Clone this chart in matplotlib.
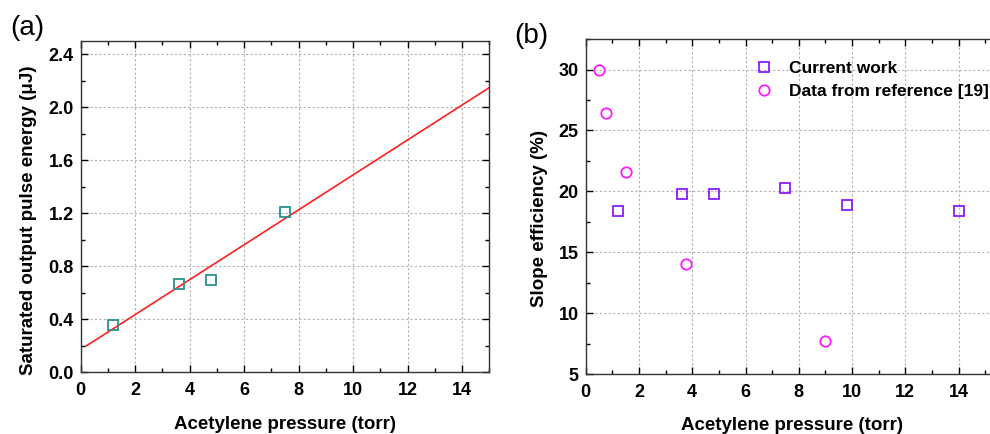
import numpy as np
import matplotlib
matplotlib.use('Agg')
import matplotlib.pyplot as plt
from matplotlib.ticker import MultipleLocator, FormatStrFormatter

plt.rcParams['font.family'] = ['Liberation Sans', 'DejaVu Sans']
plt.rcParams['font.weight'] = 'bold'

# (a) saturated output pulse energy vs pressure
pressure_a = [1.2, 3.6, 4.8, 7.5]
energy_uj = [0.36, 0.67, 0.70, 1.21]
fit_range = [0.2, 15.0]

# (b) slope efficiency, this work and ref [19]
pressure_cur = [1.2, 3.6, 4.8, 7.5, 9.8, 14.0]
slope_cur = [18.4, 19.8, 19.8, 20.3, 18.9, 18.4]
pressure_ref = [0.5, 0.75, 1.5, 3.75, 9.0]
slope_ref = [30.0, 26.4, 21.6, 14.0, 7.7]

TEAL = '#2a8f8f'
PURPLE = '#8a1cff'
MAGENTA = '#ff1aff'
LABEL_SIZE = 13.5


def style_axes(ax):
    ax.tick_params(which='both', direction='in', top=True, right=True,
                   labelsize=13, width=1.0)
    ax.tick_params(which='major', length=5)
    ax.tick_params(which='minor', length=3)
    ax.tick_params(axis='x', which='major', pad=7)
    ax.tick_params(axis='y', which='major', pad=5)
    ax.grid(True, which='major', linestyle=(0, (2, 2)), color='#b0b0b0', linewidth=0.8)
    ax.set_axisbelow(True)
    for s in ax.spines.values():
        s.set_linewidth(1.0)
        s.set_color('#333333')


fig = plt.figure(figsize=(9.9, 4.34), dpi=100)

ax1 = fig.add_axes([0.0815, 0.142, 0.4127, 0.764])
coef = np.polyfit(pressure_a, energy_uj, 1)
xf = np.array(fit_range)
ax1.plot(xf, np.polyval(coef, xf), color='#ff2020', linewidth=1.2, zorder=2)
ax1.plot(pressure_a, energy_uj, 's', markersize=6.5, markerfacecolor='none',
         markeredgecolor=TEAL, markeredgewidth=1.3, zorder=3)
ax1.set_xlim(0, 15)
ax1.set_ylim(0, 2.5)
ax1.xaxis.set_major_locator(MultipleLocator(2))
ax1.xaxis.set_minor_locator(MultipleLocator(1))
ax1.yaxis.set_major_locator(MultipleLocator(0.4))
ax1.yaxis.set_minor_locator(MultipleLocator(0.2))
ax1.yaxis.set_major_formatter(FormatStrFormatter('%.1f'))
ax1.set_xlabel('Acetylene pressure (torr)', fontsize=LABEL_SIZE, fontweight='bold', labelpad=12)
ax1.set_ylabel('Saturated output pulse energy (\u03bcJ)', fontsize=LABEL_SIZE, fontweight='bold', labelpad=8)
ax1.yaxis.label.set_y(0.459)
style_axes(ax1)

# right panel runs past the figure edge, so only label ticks up to 14
ax2 = fig.add_axes([0.5916, 0.138, 0.4305, 0.772])
ax2.plot(pressure_cur, slope_cur, 's', markersize=6.5, markerfacecolor='none',
         markeredgecolor=PURPLE, markeredgewidth=1.3, label='Current work', zorder=3)
ax2.plot(pressure_ref, slope_ref, 'o', markersize=7.5, markerfacecolor='none',
         markeredgecolor=MAGENTA, markeredgewidth=1.3, label='Data from reference [19]', zorder=3)
ax2.set_xlim(0, 16)
ax2.set_ylim(5, 32.5)
ax2.set_xticks(np.arange(0, 15, 2))
ax2.xaxis.set_minor_locator(MultipleLocator(1))
ax2.yaxis.set_major_locator(MultipleLocator(5))
ax2.yaxis.set_minor_locator(MultipleLocator(2.5))
ax2.set_xlabel('Acetylene pressure (torr)', fontsize=LABEL_SIZE, fontweight='bold', labelpad=12)
ax2.set_ylabel('Slope efficiency (%)', fontsize=LABEL_SIZE, fontweight='bold', labelpad=8)
ax2.xaxis.label.set_x(0.4836)
ax2.yaxis.label.set_y(0.463)
style_axes(ax2)
ax2.legend(loc='upper left', bbox_to_anchor=(0.362, 0.955), frameon=False,
           prop={'weight': 'bold', 'size': 12.5}, handletextpad=0.45,
           labelspacing=0.45, borderaxespad=0)

fig.text(0.010, 0.92, '(a)', fontsize=20, fontweight='normal')
fig.text(0.519, 0.9, '(b)', fontsize=20, fontweight='normal')

fig.savefig('out.png', dpi=100)
